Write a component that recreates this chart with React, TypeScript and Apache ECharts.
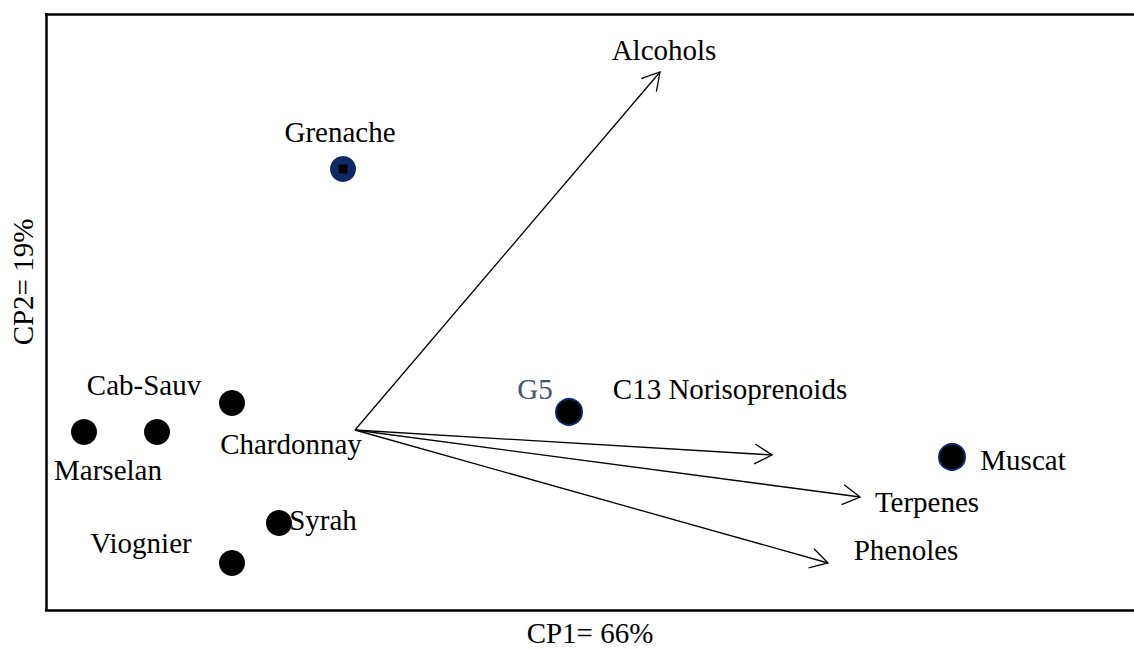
import React, { useEffect, useRef } from "react";
import * as echarts from "echarts";

// Samples (scores)
const varieties = ["Grenache", "Cab-Sauv", "Marselan", "Chardonnay", "Syrah", "Viognier", "G5", "Muscat"];
const cp1Scores = [-0.12, -1.98, -2.71, -1.23, -0.76, -1.23, 2.14, 5.97];
const cp2Scores = [2.61, -0.02, -0.02, 0.27, -0.93, -1.33, 0.18, -0.27];

// Variables (loadings, arrows from origin)
const variables = ["Alcohols", "C13 Norisoprenoids", "Terpenes", "Phenoles"];
const loadCp1 = [3.05, 4.17, 5.05, 4.73];
const loadCp2 = [3.58, -0.25, -0.67, -1.33];

const xTitle = "CP1= 66%";
const yTitle = "CP2= 19%";

// Layout / style (label offsets in px)
const sampleLabelOffsets: number[][] = [
  [-3, -37], [-13, -47], [24, 38], [59, 41], [44, -3], [-91, -20], [-34, -23], [71, 3],
];
const arrowLabelOffsets: number[][] = [
  [4, -22], [-42, -66], [67, 5], [78, -13],
];
const NAVY = "#0d2a66";
const FONT = "Liberation Serif";
const FS = 29;

export default function App() {
  const ref = useRef<HTMLDivElement>(null);
  useEffect(() => {
    if (!ref.current) return;
    const chart = echarts.init(ref.current, null, { renderer: "svg" });

    const scatterData = varieties.map((name, i) => {
      const isGren = name === "Grenache";
      const ringed = name === "G5" || name === "Muscat";
      return {
        name,
        value: [cp1Scores[i], cp2Scores[i]],
        itemStyle: {
          color: isGren ? NAVY : "#000",
          borderColor: ringed ? NAVY : undefined,
          borderWidth: ringed ? 2 : 0,
          opacity: 1,
        },
        label: {
          show: true,
          position: "inside",
          offset: sampleLabelOffsets[i],
          formatter: name,
          color: name === "G5" ? "#44546a" : "#000",
          fontSize: FS,
          fontFamily: FONT,
          align: "center",
          verticalAlign: "middle",
        },
      };
    });

    const arrowData = variables.map((name, i) => ({
      name,
      value: [loadCp1[i], loadCp2[i], i],
    }));

    const lineStyleFrame = { color: "#000", width: 2.5 };

    chart.setOption({
      animation: false,
      backgroundColor: "#fff",
      grid: { left: 46, right: 0, top: 14, bottom: 40, containLabel: false, outerBoundsMode: "none" },
      xAxis: [
        {
          type: "value",
          min: -3.09,
          max: 7.79,
          position: "bottom",
          name: xTitle,
          nameLocation: "middle",
          nameGap: 23,
          nameTextStyle: {
            fontFamily: FONT,
            fontSize: FS,
            color: "#000",
            verticalAlign: "middle",
            lineHeight: 24,
          },
          axisLine: { show: true, onZero: false, lineStyle: lineStyleFrame },
          axisTick: { show: false },
          axisLabel: { show: false },
          splitLine: { show: false },
        },
        {
          type: "value",
          min: -3.09,
          max: 7.79,
          position: "top",
          axisLine: { show: true, onZero: false, lineStyle: lineStyleFrame },
          axisTick: { show: false },
          axisLabel: { show: false },
          splitLine: { show: false },
        },
      ],
      yAxis: {
        type: "value",
        min: -1.8,
        max: 4.16,
        position: "left",
        axisLine: { show: true, onZero: false, lineStyle: lineStyleFrame },
        axisTick: { show: false },
        axisLabel: { show: false },
        splitLine: { show: false },
      },
      graphic: [
        {
          type: "text",
          x: 23,
          y: 282,
          rotation: Math.PI / 2,
          style: {
            text: yTitle,
            fill: "#000",
            font: `${FS}px "${FONT}"`,
            align: "center",
            verticalAlign: "middle",
          },
        },
      ],
      series: [
        {
          type: "custom",
          xAxisIndex: 0,
          yAxisIndex: 0,
          data: arrowData,
          silent: true,
          renderItem: (params: any, api: any) => {
            const idx = api.value(2);
            const o = api.coord([0, 0]);
            const t = api.coord([api.value(0), api.value(1)]);
            const ang = Math.atan2(t[1] - o[1], t[0] - o[0]);
            const L = 20;
            const a = Math.PI / 6;
            const p1 = [t[0] - L * Math.cos(ang - a), t[1] - L * Math.sin(ang - a)];
            const p2 = [t[0] - L * Math.cos(ang + a), t[1] - L * Math.sin(ang + a)];
            const off = arrowLabelOffsets[idx];
            return {
              type: "group",
              children: [
                {
                  type: "line",
                  shape: { x1: o[0], y1: o[1], x2: t[0], y2: t[1] },
                  style: { stroke: "#000", lineWidth: 1.3 },
                },
                {
                  type: "polyline",
                  shape: { points: [p1, t, p2] },
                  style: { stroke: "#000", fill: null, lineWidth: 1.3 },
                },
                {
                  type: "text",
                  x: t[0] + off[0],
                  y: t[1] + off[1],
                  style: {
                    text: variables[idx],
                    fill: "#000",
                    font: `${FS}px "${FONT}"`,
                    align: "center",
                    verticalAlign: "middle",
                  },
                },
              ],
            };
          },
        },
        {
          type: "scatter",
          xAxisIndex: 0,
          yAxisIndex: 0,
          symbol: "circle",
          symbolSize: 26,
          data: scatterData,
          silent: true,
        },
        {
          type: "scatter",
          xAxisIndex: 0,
          yAxisIndex: 0,
          symbol: "rect",
          symbolSize: 9,
          itemStyle: { color: "#000", opacity: 1 },
          data: [[cp1Scores[0], cp2Scores[0]]],
          silent: true,
        },
      ],
    });
    return () => chart.dispose();
  }, []);

  return (
    <div
      ref={ref}
      style={{ position: "fixed", left: 0, top: 0, width: 1134, height: 650 }}
    />
  );
}
